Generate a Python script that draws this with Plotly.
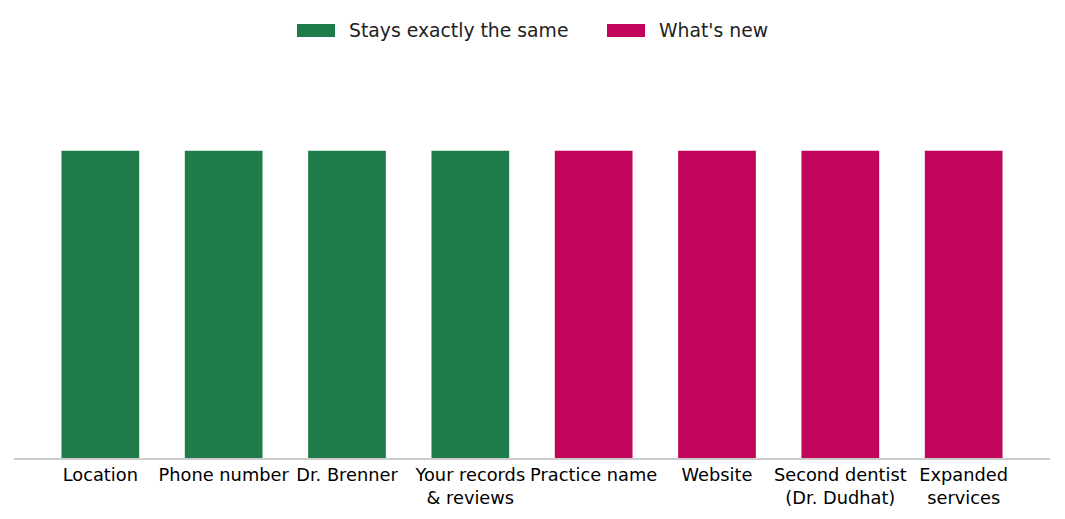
import plotly.graph_objects as go

categories = ["Location", "Phone number", "Dr. Brenner", "Your records<br>& reviews",
              "Practice name", "Website", "Second dentist<br>(Dr. Dudhat)", "Expanded<br>services"]
same_cats = categories[:4]
same_vals = [1, 1, 1, 1]
new_cats = categories[4:]
new_vals = [1, 1, 1, 1]
series_names = ["Stays exactly the same", "What's new"]

GREEN = "#1f7b4a"
MAGENTA = "#c0055a"
FONT = "DejaVu Sans"

OFF = 8  # page body margin
W, H = 1065 - OFF, 519 - OFF
L, R, T, B = 14 - OFF, 15, 74 - OFF, 61
pw, ph = W - L - R, H - T - B

def px(x):
    return (x - OFF - L) / pw

def py(y):
    return (H + OFF - B - y) / ph

fig = go.Figure()
fig.add_trace(go.Bar(x=same_cats, y=same_vals, name=series_names[0], marker_color=GREEN,
                     marker_line_width=0, width=0.63, showlegend=False))
fig.add_trace(go.Bar(x=new_cats, y=new_vals, name=series_names[1], marker_color=MAGENTA,
                     marker_line_width=0, width=0.63, showlegend=False))

# legend drawn manually (wide swatches)
shapes = []
annotations = []
legend_items = [(297, GREEN, series_names[0]), (607, MAGENTA, series_names[1])]
for x0, col, name in legend_items:
    shapes.append(dict(type="rect", xref="paper", yref="paper",
                       x0=px(x0), x1=px(x0 + 38), y0=py(37), y1=py(24),
                       fillcolor=col, line=dict(width=0)))
    annotations.append(dict(xref="paper", yref="paper", x=px(x0 + 50), y=py(31),
                            xanchor="left", yanchor="middle", text=name, showarrow=False,
                            font=dict(family=FONT, size=18.8, color="#222222")))

fig.update_layout(
    width=W, height=H,
    margin=dict(l=L, r=R, t=T, b=B),
    plot_bgcolor="white", paper_bgcolor="white",
    barmode="overlay",
    font=dict(family=FONT, size=17.8, color="black"),
    xaxis=dict(categoryorder="array", categoryarray=categories, range=[-0.7, 7.7],
               showline=True, linecolor="#cccccc", linewidth=2, showgrid=False,
               ticks="", tickfont=dict(family=FONT, size=17.8, color="black")),
    yaxis=dict(range=[0, 1.25], visible=False, showgrid=False, zeroline=False),
    shapes=shapes, annotations=annotations,
    showlegend=False,
)

fig.write_html("out.html")
